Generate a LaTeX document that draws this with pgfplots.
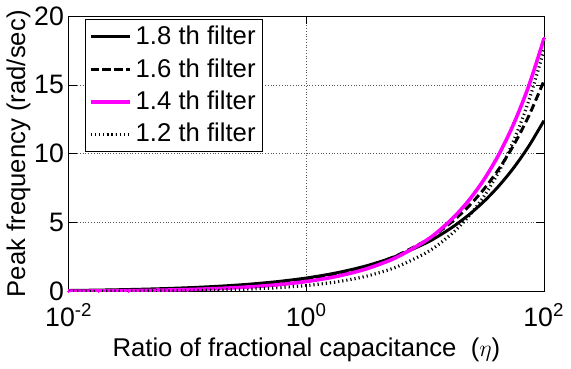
\documentclass[border=0pt]{standalone}
\usepackage{pgfplots}
\pgfplotsset{compat=1.18}
\usepackage{fontspec}
\setmainfont{Liberation Sans}
\definecolor{mag}{RGB}{255,0,255}
\begin{document}
\begin{tikzpicture}
\begin{axis}[
  scale only axis,
  width=240.5pt, height=139.5pt,
  xmode=log,
  xmin=0.01, xmax=100,
  ymin=0, ymax=20,
  xtick={0.01,1,100},
  xticklabels={10\textsuperscript{-2},10\textsuperscript{0},10\textsuperscript{2}},
  xminorticks=false,
  ytick={0,5,10,15,20},
  /pgf/number format/assume math mode=true,
  tick align=inside,
  major tick length=4pt,
  tick style={black, thin},
  grid=major,
  major grid style={densely dotted, gray!70!black, thin},
  axis line style={black, thin},
  tick label style={font=\fontsize{13.5}{15}\selectfont},
  label style={font=\fontsize{13}{14}\selectfont},
  xticklabel style={yshift=-2.5pt},
  yticklabel style={xshift=1pt},
  xlabel={Ratio of fractional capacitance \ ($\eta$)},
  ylabel={Peak frequency (rad/sec)},
  xlabel style={yshift=1.5pt},
  ylabel style={yshift=-5pt},
  legend cell align=left,
  legend style={at={(0.035,0.99)}, anchor=north west, draw=black, thin,
    font=\fontsize{13}{14}\selectfont, row sep=1.5pt, inner sep=1.5pt},
  legend image code/.code={\draw[mark repeat=2,mark phase=2] plot coordinates {(0cm,0cm) (0.35cm,0cm) (0.7cm,0cm)};},
]
\addplot[black, line width=1.5pt, smooth] coordinates {
(0.01,0.078) (0.017783,0.107) (0.031623,0.147) (0.056234,0.202) (0.1,0.278)
(0.17783,0.381) (0.31623,0.523) (0.56234,0.718) (1,0.985) (1.7783,1.352)
(3.1623,1.855) (5.6234,2.546) (10,3.495) (13.335,4.094) (17.783,4.796)
(23.714,5.619) (31.623,6.583) (42.170,7.712) (56.234,9.035) (74.989,10.585) (100,12.40)};
\addlegendentry{1.8 th filter}
\addplot[black, line width=1.5pt, dash pattern=on 4pt off 2pt, smooth] coordinates {
(0.01,0.051) (0.017783,0.072) (0.031623,0.103) (0.056234,0.148) (0.1,0.211)
(0.17783,0.302) (0.31623,0.431) (0.56234,0.616) (1,0.88) (1.7783,1.258)
(3.1623,1.797) (5.6234,2.567) (10,3.669) (13.335,4.386) (17.783,5.242)
(23.714,6.266) (31.623,7.490) (42.170,8.95) (56.234,10.70) (74.989,12.79) (100,15.29)};
\addlegendentry{1.6 th filter}
\addplot[mag, line width=1.8pt, smooth, mark=+, mark size=1pt, mark options={solid, line width=0.6pt}] coordinates {
(0.01,0.029) (0.017783,0.044) (0.031623,0.065) (0.056234,0.097) (0.1,0.146)
(0.17783,0.218) (0.31623,0.326) (0.56234,0.488) (1,0.73) (1.7783,1.092)
(3.1623,1.634) (5.6234,2.445) (10,3.659) (13.335,4.476) (17.783,5.474)
(23.714,6.696) (31.623,8.19) (42.170,10.02) (56.234,12.26) (74.989,14.99) (100,18.34)};
\addlegendentry{1.4 th filter}
\addplot[black, line width=1.6pt, dash pattern=on 0.6pt off 1.5pt, smooth] coordinates {
(0.01,0.011) (0.017783,0.018) (0.031623,0.028) (0.056234,0.044) (0.1,0.070)
(0.17783,0.111) (0.31623,0.175) (0.56234,0.278) (1,0.44) (1.7783,0.697)
(3.1623,1.105) (5.6234,1.752) (10,2.776) (13.335,3.495) (17.783,4.40)
(23.714,5.54) (31.623,6.97) (42.170,8.78) (56.234,11.05) (74.989,13.91) (100,17.52)};
\addlegendentry{1.2 th filter}
\end{axis}
\end{tikzpicture}
\end{document}
